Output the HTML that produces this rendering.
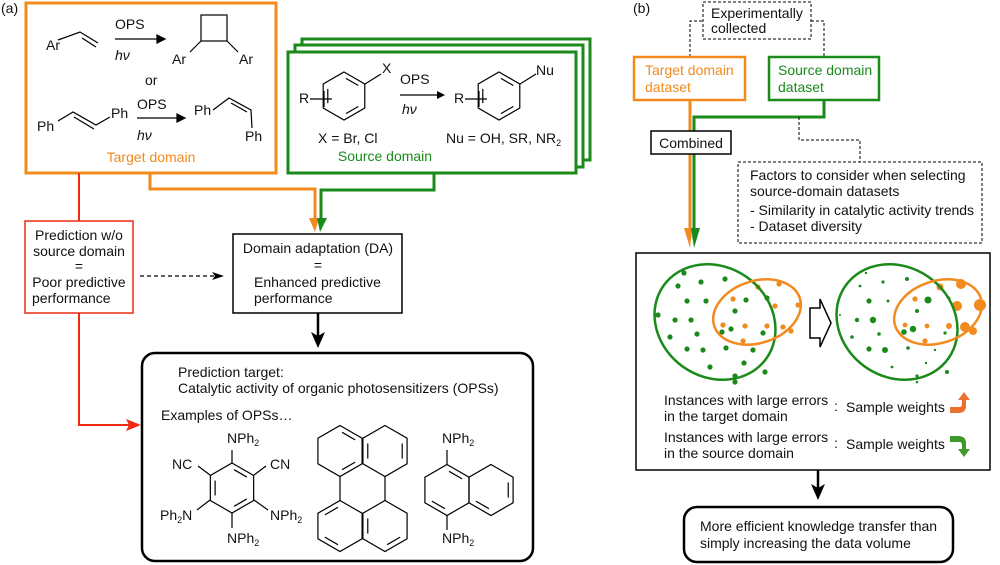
<!DOCTYPE html>
<html><head><meta charset="utf-8"><style>
html,body{margin:0;padding:0;background:#fff;}
svg{display:block;}
text{font-family:"Liberation Sans",Arial,sans-serif;font-size:14px;fill:#111;}
.o{fill:#f28a1e;} .g{fill:#1a8a1a;}
</style></head><body>
<svg id="s" width="1000" height="565" viewBox="0 0 1000 565" xmlns="http://www.w3.org/2000/svg">
<rect width="1000" height="565" fill="#fff"/>
<text x="1" y="13" font-size="13">(a)</text>
<text x="633" y="13" font-size="13">(b)</text>

<rect x="26" y="3" width="250" height="170" fill="none" stroke="#f28a1e" stroke-width="3"/>
<g stroke="#000" stroke-width="1.2" fill="none">
<polyline points="58,40 80,32 98,43"/><line x1="82" y1="38" x2="96" y2="47"/>
<line x1="115" y1="39" x2="160" y2="39"/><path d="M157,35 L165,39 L157,43 Z" fill="#000"/>
<rect x="201" y="15" width="26" height="26"/><line x1="201" y1="41" x2="190" y2="52"/><line x1="227" y1="41" x2="238" y2="52"/>
<polyline points="58,121 73,112 96,125 110,117"/><line x1="74" y1="117" x2="94" y2="129"/>
<line x1="137" y1="118" x2="180" y2="118"/><path d="M177,114 L185,118 L177,122 Z" fill="#000"/>
<polyline points="213,110 229,98 251,110 252,128"/><line x1="231" y1="103" x2="247" y2="112"/>
</g>
<text x="46" y="50">Ar</text>
<text x="115" y="29">OPS</text><text x="115" y="60" font-style="italic">hν</text>
<text x="172" y="64">Ar</text><text x="239" y="64">Ar</text>
<text x="145" y="85">or</text>
<text x="37" y="131">Ph</text><text x="111" y="118">Ph</text>
<text x="137" y="109">OPS</text><text x="137" y="140" font-style="italic">hν</text>
<text x="194" y="115">Ph</text><text x="245" y="141">Ph</text>
<text x="151" y="162" class="o" text-anchor="middle">Target domain</text>

<rect x="302" y="39" width="288" height="121" fill="#fff" stroke="#1a8a1a" stroke-width="3"/>
<rect x="295" y="45" width="288" height="122" fill="#fff" stroke="#1a8a1a" stroke-width="3"/>
<rect x="288" y="52" width="288" height="121" fill="#fff" stroke="#1a8a1a" stroke-width="3"/>
<g id="bz" stroke="#000" stroke-width="1.2" fill="none"></g>
<line x1="400" y1="95" x2="440" y2="95" stroke="#000" stroke-width="1.2"/><path d="M437,91 L445,95 L437,99 Z"/>
<text x="299" y="103">R</text><text x="382" y="73">X</text>
<text x="400" y="84">OPS</text><text x="402" y="114" font-style="italic">hν</text>
<text x="454" y="103">R</text><text x="536" y="75">Nu</text>
<text x="318" y="143">X = Br, Cl</text>
<text x="446" y="143">Nu = OH, SR, NR<tspan font-size="9" dy="3">2</tspan></text>
<text x="385" y="161" class="g" text-anchor="middle">Source domain</text>

<polyline points="150,173 150,189 315,189 315,226" fill="none" stroke="#f28a1e" stroke-width="3"/>
<path d="M309,218 L315,232 L319,218" fill="#f28a1e"/>
<polyline points="434,173 434,190 321,190 321,226" fill="none" stroke="#1a8a1a" stroke-width="3"/>
<path d="M317,218 L320,232 L327,218" fill="#1a8a1a"/>

<line x1="79" y1="173" x2="79" y2="221" stroke="#ee2a14" stroke-width="2"/>
<rect x="25" y="221" width="108" height="92" fill="none" stroke="#ee2a14" stroke-width="1.5"/>
<text x="79" y="240" text-anchor="middle">Prediction w/o</text>
<text x="79" y="256" text-anchor="middle">source domain</text>
<text x="79" y="271" text-anchor="middle">=</text>
<text x="79" y="287" text-anchor="middle">Poor predictive</text>
<text x="32" y="303">performance</text>
<polyline points="79,313 79,425 132,425" fill="none" stroke="#ee2a14" stroke-width="2"/>
<path d="M126,419 L141,425 L126,431 L129,425 Z" fill="#ee2a14"/>

<line x1="140" y1="276" x2="218" y2="276" stroke="#000" stroke-width="1.2" stroke-dasharray="4,3"/>
<path d="M212,272 L224,276 L212,280 L215,276 Z"/>

<rect x="233" y="234" width="169" height="79" fill="none" stroke="#000" stroke-width="1.5"/>
<text x="318" y="253" text-anchor="middle">Domain adaptation (DA)</text>
<text x="318" y="270" text-anchor="middle">=</text>
<text x="254" y="287">Enhanced predictive</text>
<text x="254" y="303">performance</text>
<line x1="318" y1="313" x2="318" y2="336" stroke="#000" stroke-width="2.5"/>
<path d="M311,332 L318,348 L325,332 L318,336 Z"/>

<rect x="142" y="353" width="391" height="208" rx="13" fill="none" stroke="#000" stroke-width="2.5"/>
<text x="178" y="377">Prediction target:</text>
<text x="178" y="393">Catalytic activity of organic photosensitizers (OPSs)</text>
<text x="161" y="420">Examples of OPSs…</text>
<g id="mol" stroke="#000" stroke-width="1.2" fill="none"></g>
<text x="227" y="443">NPh<tspan font-size="9" dy="3">2</tspan></text>
<text x="172" y="469">NC</text><text x="270" y="469">CN</text>
<text x="160" y="520">Ph<tspan font-size="9" dy="3">2</tspan><tspan dy="-3">N</tspan></text>
<text x="270" y="520">NPh<tspan font-size="9" dy="3">2</tspan></text>
<text x="227" y="543">NPh<tspan font-size="9" dy="3">2</tspan></text>
<text x="442" y="443">NPh<tspan font-size="9" dy="3">2</tspan></text>
<text x="442" y="543">NPh<tspan font-size="9" dy="3">2</tspan></text>

<rect x="703" y="2" width="108" height="37" fill="none" stroke="#000" stroke-width="1" stroke-dasharray="3,2"/>
<text x="711" y="18">Experimentally</text><text x="711" y="33">collected</text>
<polyline points="690,57 690,21 703,21" fill="none" stroke="#000" stroke-dasharray="3,2"/>
<polyline points="811,21 824,21 824,57" fill="none" stroke="#000" stroke-dasharray="3,2"/>
<rect x="634" y="57" width="111" height="43" fill="none" stroke="#f28a1e" stroke-width="2.5"/>
<text x="645" y="75" class="o">Target domain</text><text x="645" y="92" class="o">dataset</text>
<rect x="769" y="57" width="110" height="43" fill="none" stroke="#1a8a1a" stroke-width="2.5"/>
<text x="778" y="75" class="g">Source domain</text><text x="778" y="92" class="g">dataset</text>
<line x1="690" y1="100" x2="690" y2="238" stroke="#f28a1e" stroke-width="3"/>
<path d="M684,228 L690,248 L692,228" fill="#f28a1e"/>
<polyline points="824,100 824,117 694,117 694,238" fill="none" stroke="#1a8a1a" stroke-width="3"/>
<path d="M691,228 L694,248 L700,228" fill="#1a8a1a"/>
<rect x="651" y="131" width="80" height="23" fill="#fff" stroke="#000" stroke-width="1.5"/>
<text x="691" y="148" text-anchor="middle">Combined</text>
<polyline points="799,117 799,140 860,140 860,162" fill="none" stroke="#000" stroke-dasharray="3,2"/>
<rect x="738" y="162" width="244" height="81" fill="none" stroke="#000" stroke-dasharray="3,2"/>
<text x="750" y="180">Factors to consider when selecting</text>
<text x="750" y="196">source-domain datasets</text>
<text x="750" y="215">- Similarity in catalytic activity trends</text>
<text x="750" y="231">- Dataset diversity</text>

<rect x="636" y="253" width="354" height="217" fill="none" stroke="#000" stroke-width="1.5"/>
<g id="dots"></g>
<ellipse cx="715" cy="322" rx="63" ry="55" transform="rotate(35 715 322)" fill="none" stroke="#1a8a1a" stroke-width="2.5"/>
<ellipse cx="757" cy="312" rx="45" ry="31" transform="rotate(-18 757 312)" fill="none" stroke="#f28a1e" stroke-width="2.5"/>
<ellipse cx="897" cy="322" rx="63" ry="55" transform="rotate(35 897 322)" fill="none" stroke="#1a8a1a" stroke-width="2.5"/>
<ellipse cx="938" cy="312" rx="45" ry="31" transform="rotate(-18 938 312)" fill="none" stroke="#f28a1e" stroke-width="2.5"/>
<path d="M810,308 L820,308 L820,299 L831,323 L820,347 L820,338 L810,338 Z" fill="#fff" stroke="#000" stroke-width="1.5"/>
<text x="664" y="405">Instances with large errors</text>
<text x="664" y="421">in the target domain</text>
<text x="834" y="411">:</text><text x="846" y="412">Sample weights</text>
<text x="664" y="442">Instances with large errors</text>
<text x="664" y="458">in the source domain</text>
<text x="834" y="448">:</text><text x="846" y="449">Sample weights</text>
<path d="M950,407 L960,407 Q962,407 962,403 L962,400 L958,400 L964,392 L970,400 L966,400 L966,406 Q966,413 958,413 L950,413 Z" fill="#ee7030"/>
<path d="M950,436 L958,436 Q966,436 966,443 L966,449 L970,449 L964,457 L958,449 L962,449 L962,446 Q962,442 960,442 L950,442 Z" fill="#3e9a2a"/>

<line x1="818" y1="470" x2="818" y2="488" stroke="#000" stroke-width="2.5"/>
<path d="M811,484 L818,500 L825,484 L818,488 Z"/>
<rect x="684" y="507" width="269" height="55" rx="13" fill="none" stroke="#000" stroke-width="2.5"/>
<text x="700" y="531">More efficient knowledge transfer than</text>
<text x="700" y="548">simply increasing the data volume</text>
</svg>
<script>
(function(){
var NS="http://www.w3.org/2000/svg";
function hex(g,cx,cy,r,inner){
 var p=[];for(var i=0;i<6;i++){var a=(-90+60*i)*Math.PI/180;p.push([cx+r*Math.cos(a),cy+r*Math.sin(a)]);}
 var pl=document.createElementNS(NS,"polygon");pl.setAttribute("points",p.map(function(q){return q.join(",")}).join(" "));g.appendChild(pl);
 (inner||[]).forEach(function(i){var a=p[i],b=p[(i+1)%6];var s=0.78;
  var ax=cx+(a[0]-cx)*s,ay=cy+(a[1]-cy)*s,bx=cx+(b[0]-cx)*s,by=cy+(b[1]-cy)*s;
  var l=document.createElementNS(NS,"line");l.setAttribute("x1",ax+(bx-ax)*0.12);l.setAttribute("y1",ay+(by-ay)*0.12);l.setAttribute("x2",bx-(bx-ax)*0.12);l.setAttribute("y2",by-(by-ay)*0.12);g.appendChild(l);});
 return p;}
function ln(g,a,b,c,d){var l=document.createElementNS(NS,"line");l.setAttribute("x1",a);l.setAttribute("y1",b);l.setAttribute("x2",c);l.setAttribute("y2",d);g.appendChild(l);}
var bz=document.getElementById("bz");
hex(bz,344,96,24,[0,2,4]);ln(bz,365,84,381,74);ln(bz,310,99,332,99);ln(bz,324,91,324,107);
hex(bz,499,96,24,[0,2,4]);ln(bz,520,84,536,74);ln(bz,465,99,487,99);ln(bz,479,91,479,107);
var m=document.getElementById("mol");
hex(m,232,488,25,[0,2,4]);
ln(m,232,463,232,450);ln(m,254,475,266,466);ln(m,210,475,198,466);ln(m,254,500,268,510);ln(m,210,500,197,510);ln(m,232,513,232,528);
hex(m,340,451,25.5,[0,2]);hex(m,385,451,25.5,[1,4]);
hex(m,340,526,25.5,[3,5]);hex(m,385,526,25.5,[2,4]);
ln(m,340,476.5,340,500.5);ln(m,385,476.5,385,500.5);
hex(m,447,490,25.5,[0,3]);hex(m,491,490,25.5,[1,3]);
ln(m,447,464.5,447,450);ln(m,447,515.5,447,530);
var d=document.getElementById("dots");
function dot(x,y,r,c){var e=document.createElementNS(NS,"circle");e.setAttribute("cx",x);e.setAttribute("cy",y);e.setAttribute("r",r);e.setAttribute("fill",c);d.appendChild(e);}
var G="#1a8a1a",O="#f28a1e";
var gp=[[684,273],[678,286],[701,282],[725,279],[687,301],[691,320],[706,301],[658,315],[675,320],[697,334],[722,332],[746,300],[767,298],[735,311],[731,329],[763,333],[753,350],[687,349],[703,350],[726,348],[744,363],[765,372],[710,367],[735,376],[670,337],[735,382]];
var op=[[758,287],[779,284],[733,299],[775,306],[798,305],[745,326],[723,325],[767,326],[783,327],[743,341],[791,331]];
gp.forEach(function(p){dot(p[0],p[1],2.6,G);});op.forEach(function(p){dot(p[0],p[1],2.6,O);});
var gs=[1.2,1.4,1.6,2,2.6,3.2,1.5,1,2.2,1.8,2.8,3.5,1.4,2,3.2,1.6,1.2,2.6,3,1.8,1.2,2,1.4,1.6,1.8,1.3];
gp.forEach(function(p,i){dot(p[0]+182,p[1],gs[i],G);});
var os=[3.5,5,2.6,5,6,2.4,2.4,3,5,2.6,4];
op.forEach(function(p,i){dot(p[0]+182,p[1],os[i],O);});
})();
</script>
</body></html>
